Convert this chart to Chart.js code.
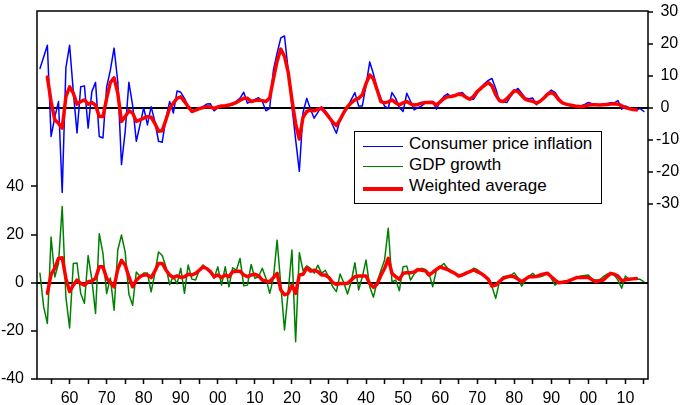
<!DOCTYPE html>
<html><head><meta charset="utf-8">
<script src="https://cdn.jsdelivr.net/npm/chart.js@4.4.1/dist/chart.umd.min.js"></script>
<style>
html,body{margin:0;padding:0;background:#fff;}
#wrap{position:relative;width:685px;height:405px;overflow:hidden;}
canvas{display:block;}
#legend{position:absolute;left:354px;top:131px;width:248px;height:73px;border:1.5px solid #000;background:#fff;box-sizing:border-box;font-family:"Liberation Sans",Arial,sans-serif;font-size:17px;color:#000;}
.sw{position:absolute;left:8px;width:40px;}
.lb{position:absolute;left:54px;line-height:20px;white-space:nowrap;}
</style></head>
<body>
<div id="wrap">
<canvas id="c" width="685" height="405"></canvas>
<div id="legend">
  <div class="sw" style="top:13.5px;height:1.5px;background:#0000ff"></div>
  <div class="lb" style="top:1.5px">Consumer price inflation</div>
  <div class="sw" style="top:33.5px;height:1.5px;background:#008000"></div>
  <div class="lb" style="top:22.5px">GDP growth</div>
  <div class="sw" style="top:54.5px;height:4px;background:#ff0000"></div>
  <div class="lb" style="top:44px">Weighted average</div>
</div>
</div>
<script>
// ---- data ----
const cpiStartYear = 1852;
const gdpStartYear = 1852;
const avgStartYear = 1854;

// Consumer price inflation, % (right axis), 1852-2015
const cpi = [
  12.2, 15.8, 19.5, -9.0, -3.0, 1.9, -26.5, 12.5,
  19.5, 5.0, -7.9, 6.5, 6.8, -6.4, 5.0, 7.9, -9.0, -9.5,
  6.5, 11.7, 18.6, 8.1, -17.8, -7.4, 7.9, 0.8, -10.5, -5.4,
  0.0, -5.4, 0.3, -4.3, -10.5, -10.8, -3.3, 1.9, -1.7, 5.2,
  4.8, 2.9, 0.3, -1.4, -0.8, -0.2, 0.3, 1.1, 1.2, -1.0,
  0.0, 0.5, 0.6, 0.8, 0.8, 2.0, 3.0, 4.8, 1.4, 2.0,
  2.6, 3.1, 1.9, -1.0, -0.2, 11.7, 17.0, 21.8, 22.4, 11.5,
  0.5, -10.0, -19.9, -1.5, 2.9, -0.5, -3.3, -1.5, 0.3, -1.0,
  -2.5, -5.5, -8.0, -3.8, -1.8, 0.0, 2.5, 4.7, 0.5, 0.5,
  7.0, 14.3, 10.5, 6.0, 2.9, 0.5, -0.2, 4.7, 2.9, 0.0,
  -1.2, 4.5, 2.0, -0.7, 0.0, 0.5, 1.5, 1.9, 1.9, -0.5,
  2.0, 3.5, 4.3, 3.4, 3.8, 4.5, 4.7, 3.5, 2.6, 2.6,
  4.5, 6.3, 7.5, 8.5, 9.1, 6.0, 1.9, 1.8, 1.6, 3.5,
  5.0, 6.0, 4.5, 3.0, 2.8, 3.0, 0.9, 2.0, 3.0, 4.5,
  5.5, 4.8, 3.0, 1.4, 1.0, 0.8, 0.5, 0.3, 0.5, 1.0,
  1.6, 1.2, 1.0, 0.8, 1.0, 1.2, 1.5, 1.5, 2.2, -0.5,
  0.5, 0.0, -0.5, -0.7, -0.3, -1.2
];

// Weighted average of inflation, % (right axis), 1854-2013
const cpiAvg = [
  9.6, 1.9, -3.8, -4.9, -6.4, 3.4,
  6.5, 4.5, 1.1, 1.9, 2.4, 1.1, 1.6, 0.8, -2.8, -2.8,
  2.9, 7.9, 9.3, 4.5, -4.3, -2.8, -1.0, -1.7, -4.3, -3.8,
  -3.3, -2.8, -3.0, -4.9, -7.4, -7.2, -3.8, -0.2, 1.4, 2.9,
  3.4, 1.9, 0.3, -1.2, -0.8, -0.3, 0.0, 0.3, 0.2, -0.2,
  0.2, 0.5, 0.6, 0.8, 1.2, 1.6, 2.3, 2.9, 2.9, 1.9,
  2.2, 2.4, 2.2, 1.9, 3.0, 9.0, 14.5, 18.3, 16.0, 11.0,
  2.5, -5.0, -9.8, -3.0, -1.2, -0.8, -1.0, -0.5, -0.2, -1.5,
  -3.0, -4.5, -5.6, -3.8, -1.5, 0.3, 1.5, 2.4, 2.9, 4.0,
  7.5, 10.2, 9.0, 5.5, 1.9, 1.5, 1.8, 2.4, 1.5, 0.8,
  1.5, 1.9, 1.2, 0.8, 1.0, 1.4, 1.6, 1.6, 1.6, 0.8,
  1.8, 2.8, 3.4, 3.5, 3.8, 4.2, 4.0, 3.2, 2.6, 3.5,
  5.0, 6.0, 7.0, 7.8, 6.8, 4.0, 2.2, 1.9, 2.8, 4.0,
  5.3, 5.0, 3.8, 2.6, 2.2, 2.0, 1.4, 2.0, 3.0, 4.2,
  4.7, 4.0, 2.5, 1.5, 1.1, 0.8, 0.6, 0.4, 0.3, 0.5,
  0.8, 0.9, 0.9, 0.8, 0.9, 1.0, 1.1, 1.2, 1.1, 0.6,
  0.0, -0.3, -0.6, -0.7
];

// GDP growth, % (left axis), 1852-2015
const gdp = [
  3.9, -10.0, -16.9, 19.0, 2.4, 8.0, 31.7, -6.0,
  -18.8, 8.0, 8.2, -4.5, -8.5, 11.3, 1.5, -12.8, 20.4, 12.2,
  -4.5, 2.0, -11.4, 13.6, 19.8, 12.7, -4.8, -9.4, 4.5, 2.7,
  4.0, 4.0, -3.8, 3.8, 12.8, 11.3, 6.5, -0.8, 2.7, -0.5,
  6.0, -4.4, 7.4, 1.5, 1.1, 5.2, 7.4, 5.9, 4.8, 1.8,
  6.6, -1.0, 6.6, -1.7, 6.2, 5.2, 10.1, -1.3, -1.0, 7.6,
  1.8, 2.5, 6.0, 1.8, -4.4, 1.8, 17.7, -1.0, -19.6, -3.7,
  13.6, -24.5, 12.5, 5.0, 7.0, 6.0, 4.0, 7.3, 3.9, 5.2,
  2.1, -1.7, -3.7, 3.6, 0.0, -4.7, 0.4, 8.3, -3.0, 2.5,
  9.4, -1.7, -6.0, 0.4, 5.0, 9.4, 22.6, 0.4, 1.1, -3.3,
  6.6, 6.9, 1.1, 3.6, 5.0, 6.0, 5.5, 3.9, -1.7, 5.3,
  6.6, 8.0, 6.0, 5.0, 4.1, 2.5, 3.0, 3.6, 4.5, 6.0,
  5.5, 4.1, 3.0, 1.4, -1.7, -6.5, 0.4, 2.5, 2.8, 3.0,
  4.1, 2.0, -1.4, 1.0, 2.8, 3.9, 2.5, 2.5, 3.0, 4.1,
  1.8, -1.0, 0.4, 0.4, 0.8, 0.8, 1.5, 2.2, 2.8, 3.0,
  3.2, 1.4, 1.1, 1.1, 2.5, 3.5, 4.1, 3.2, 1.1, -2.3,
  2.8, 1.4, 1.4, 1.4, 1.4, 0.4
];

// Weighted average of GDP growth, % (left axis), 1854-2013
const gdpAvg = [
  -4.4, 3.5, 6.0, 10.1, 10.4, 1.8,
  -3.7, -1.0, 1.1, -0.3, -1.0, 0.4, 0.7, 1.8, 6.6, 6.6,
  1.8, 0.1, -1.7, 5.6, 9.3, 7.3, 2.5, -1.7, 1.1, 2.5,
  3.2, 3.2, 2.1, 4.8, 8.0, 8.0, 5.3, 3.2, 2.1, 2.9,
  2.2, 2.5, 3.5, 3.2, 3.9, 5.2, 6.6, 5.9, 4.6, 2.5,
  3.2, 2.1, 3.2, 2.5, 4.6, 4.8, 4.8, 3.2, 2.5, 3.2,
  3.5, 2.9, 1.1, 0.7, 0.4, 2.1, 3.9, -3.0, -5.0, -4.4,
  -1.0, -4.4, 3.2, 3.5, 6.2, 4.8, 5.2, 4.6, 3.2, 3.2,
  2.1, 0.1, -0.7, -0.3, -0.3, -0.3, 1.1, 2.5, 2.8, 2.8,
  2.8, -0.3, -1.9, -0.6, 3.0, 5.9, 10.1, 3.9, 2.5, 1.4,
  3.9, 4.1, 4.1, 4.5, 5.5, 5.2, 5.0, 3.2, 4.3, 5.5,
  6.6, 6.0, 5.5, 4.6, 3.9, 2.8, 3.2, 4.0, 4.6, 5.3,
  4.6, 3.9, 2.8, 1.4, -1.4, -1.0, 0.5, 1.8, 2.3, 2.8,
  2.5, 1.5, 0.4, 1.5, 2.5, 2.5, 2.6, 3.2, 3.6, 3.9,
  2.5, 1.1, 0.0, 0.2, 0.4, 1.0, 1.6, 2.2, 2.2, 2.2,
  2.2, 1.2, 0.4, 0.8, 1.1, 2.5, 3.9, 3.5, 2.8, 0.8,
  1.2, 1.4, 1.6, 1.8
];

// tick positions / labels
const xTickYears = [1855,1860,1865,1870,1875,1880,1885,1890,1895,1900,1905,1910,1915,1920,1925,1930,1935,1940,1945,1950,1955,1960,1965,1970,1975,1980,1985,1990,1995,2000,2005,2010,2015];
const decadeYears  = [1860,1870,1880,1890,1900,1910,1920,1930,1940,1950,1960,1970,1980,1990,2000,2010];
const decadeLabels = ["60","70","80","90","00","10","20","30","40","50","60","70","80","90","00","10"];
const leftTicks  = [-40, -20, 0, 20, 40];
const rightTicks = [-30, -20, -10, 0, 10, 20, 30];

// ---- build ----
const toXY = (arr, y0) => arr.map((v, i) => ({x: y0 + i, y: v}));
const FONT = {family: '"Liberation Sans", Arial, sans-serif', size: 16};

const framePlugin = {
  id: 'frame',
  afterDraw(chart) {
    const a = chart.chartArea, ctx = chart.ctx;
    ctx.save();
    ctx.strokeStyle = '#000';
    ctx.lineWidth = 1.5;
    ctx.strokeRect(a.left, a.top, a.right - a.left, a.bottom - a.top);
    ctx.restore();
  }
};

const zeroGrid = (ctx) => (ctx.tick && ctx.tick.value === 0) ? '#000' : 'rgba(0,0,0,0)';
const noPad = s => { s.paddingTop = 0; s.paddingBottom = 0; s.paddingLeft = 0; s.paddingRight = 0; };

new Chart(document.getElementById('c'), {
  type: 'line',
  data: {
    datasets: [
      {label: 'Weighted average', data: toXY(cpiAvg, avgStartYear), yAxisID: 'y2', borderColor: '#ff0000', borderWidth: 3.5, order: 0},
      {label: 'Weighted average', data: toXY(gdpAvg, avgStartYear), yAxisID: 'y', borderColor: '#ff0000', borderWidth: 3.5, order: 0},
      {label: 'Consumer price inflation', data: toXY(cpi, cpiStartYear), yAxisID: 'y2', borderColor: '#0000ff', borderWidth: 1.5, order: 1},
      {label: 'GDP growth', data: toXY(gdp, gdpStartYear), yAxisID: 'y', borderColor: '#008000', borderWidth: 1.5, order: 1}
    ]
  },
  options: {
    responsive: false,
    animation: false,
    devicePixelRatio: 1,
    layout: {padding: {top: 11, left: 0, right: 0, bottom: 0}},
    plugins: {legend: {display: false}, tooltip: {enabled: false}},
    elements: {point: {radius: 0}, line: {tension: 0, borderJoinStyle: 'round', borderCapStyle: 'round'}},
    scales: {
      x: {
        type: 'linear', position: 'bottom', min: 1851.2, max: 2016.1,
        afterBuildTicks: s => { s.ticks = xTickYears.map(v => ({value: v})); },
        afterFit: s => { s.height = 26; noPad(s); },
        ticks: {
          autoSkip: false, maxRotation: 0, color: '#000', font: FONT, padding: 5,
          callback: v => { const i = decadeYears.indexOf(v); return i >= 0 ? decadeLabels[i] : ''; }
        },
        grid: {drawOnChartArea: false, drawTicks: true, tickLength: 5, tickColor: '#000', tickWidth: 1.5},
        border: {display: false}
      },
      y: {
        position: 'left', min: -40, max: 112.9,
        afterBuildTicks: s => { s.ticks = leftTicks.map(v => ({value: v})); },
        afterFit: s => { s.width = 37; noPad(s); },
        ticks: {color: '#000', font: FONT, padding: 7, callback: v => String(v)},
        grid: {color: zeroGrid, lineWidth: 2, tickLength: 6, tickColor: '#000', tickWidth: 1.5},
        border: {display: false}
      },
      y2: {
        position: 'right', min: -84.8, max: 30.2,
        afterBuildTicks: s => { s.ticks = rightTicks.map(v => ({value: v})); },
        afterFit: s => { s.width = 37; noPad(s); },
        ticks: {color: '#000', font: FONT, padding: 3, callback: v => (v < 0 ? String(v) : ' ' + v)},
        grid: {color: zeroGrid, lineWidth: 2, tickLength: 5, tickColor: '#000', tickWidth: 1.5},
        border: {display: false}
      }
    }
  },
  plugins: [framePlugin]
});
</script>
</body></html>
